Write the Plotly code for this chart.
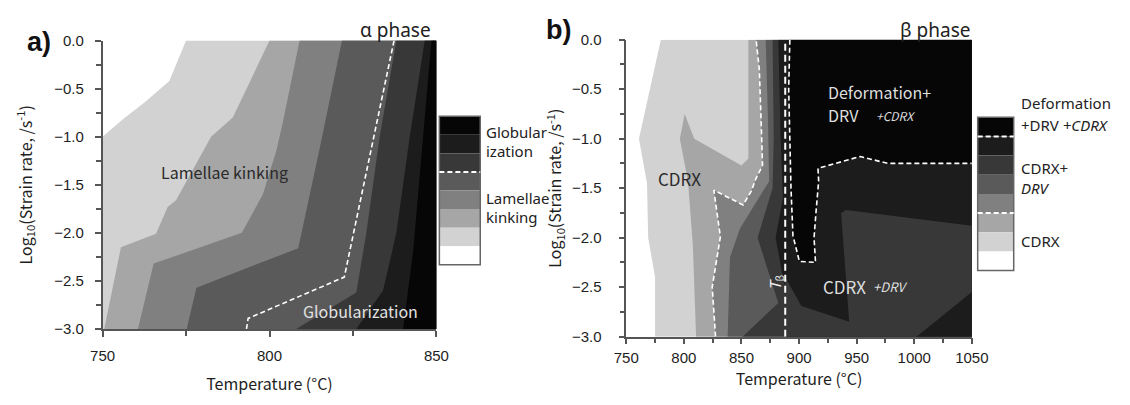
import plotly.graph_objects as go

# Grey levels used by both maps, lightest to darkest
GREYS = ["#ffffff", "#d2d2d2", "#a6a6a6", "#808080", "#5a5a5a", "#383838", "#1c1c1c", "#060606"]

# ---------------- alpha phase: contour boundaries (T in °C, log10 strain rate) ----------------
a_b1_T = [750, 750, 756, 763, 770, 775]
a_b1_L = [-3.0, -1.0, -0.82, -0.63, -0.42, 0.0]
a_b2_T = [750.5, 755.5, 766, 769.5, 772, 782.5, 789, 800]
a_b2_L = [-3.0, -2.15, -2.01, -1.73, -1.66, -1.0, -0.8, 0.0]
a_b3_T = [760.6, 765.3, 791.7, 798, 802, 804, 809]
a_b3_L = [-3.0, -2.32, -2.0, -1.6, -1.15, -0.85, 0.0]
a_b4_T = [775.2, 778.1, 808.6, 811.7, 815.4, 821.7]
a_b4_L = [-3.0, -2.57, -2.16, -1.66, -1.06, 0.0]
a_b5_T = [808, 826, 829, 833, 838]
a_b5_L = [-3.0, -2.62, -2.0, -1.0, 0.0]
a_b6_T = [826, 834, 838, 842, 846.5]
a_b6_L = [-3.0, -2.6, -2.0, -1.0, 0.0]
a_b7_T = [840, 843, 846, 848.5]
a_b7_L = [-3.0, -2.2, -1.0, 0.0]
# dashed line separating globularization from lamellae kinking
a_glob_T = [793.1, 793.6, 822.4, 837.3]
a_glob_L = [-3.0, -2.89, -2.46, 0.0]

# ---------------- beta phase: contour boundaries ----------------
b_b1_T = [775, 775, 769, 768, 761, 780]
b_b1_L = [-3.0, -2.4, -2.0, -1.45, -1.0, 0.0]
b_b2_T = [810.6, 807.8, 803.6, 796.5, 800.7, 809, 850, 856, 856]
b_b2_L = [-3.0, -2.08, -1.43, -1.0, -0.75, -1.0, -1.27, -1.2, 0.0]
# CDRX / CDRX+DRV boundary (also drawn dashed)
b_b3_T = [827.5, 824.6, 831.7, 826, 851.4, 858.5, 862.7, 868.3, 867, 865.5, 862.7]
b_b3_L = [-3.0, -2.5, -1.99, -1.52, -1.67, -1.53, -1.40, -1.27, -0.8, -0.3, 0.0]
b_b4_T = [838, 840, 848.6, 874, 873, 871]
b_b4_L = [-3.0, -2.2, -1.91, -1.43, -0.8, 0.0]
b_b5_T = [888, 888, 882, 864, 877, 878, 877]
b_b5_L = [-3.0, -2.7, -2.66, -2.0, -1.5, -1.0, 0.0]
b_b6_T = [888, 888, 886, 879.6, 886, 884, 882]
b_b6_L = [-3.0, -2.5, -2.4, -2.0, -1.6, -1.0, 0.0]
# CDRX+DRV patch at lower right
b_cd_T = [888, 888, 902, 943.5, 936.5, 940.7, 1050, 1050]
b_cd_L = [-3.0, -2.4, -2.69, -2.85, -1.75, -1.72, -1.88, -3.0]
# darker wedges
b_w1_T = [851, 882, 888, 888]
b_w1_L = [-3.0, -2.66, -2.62, -3.0]
b_w2_T = [1002, 1050, 1050]
b_w2_L = [-3.0, -2.55, -3.0]
# deformation + DRV domain (also outlined dashed)
b_def_T = [892, 891, 892, 893, 894.7, 900.3, 914.3, 913, 915, 917, 916.4, 953, 977, 1050]
b_def_L = [0.0, -0.5, -1.0, -1.5, -1.98, -2.24, -2.25, -2.0, -1.7, -1.43, -1.3, -1.18, -1.25, -1.25]
# beta transus
T_BETA = 888

A_RANGE_T = [750, 850]
B_RANGE_T = [750, 1050]
RANGE_L = [-3, 0]

fig = go.Figure()


def patch(T, L, color, xa, ya):
    fig.add_trace(go.Scatter(x=T, y=L, mode="lines", fill="toself", fillcolor=color,
                             line=dict(width=0, color=color), hoverinfo="skip",
                             showlegend=False, xaxis=xa, yaxis=ya))


def right_of(T, L, tmax):
    """Area to the right of a boundary that runs from the bottom edge to the top edge."""
    return list(T) + [tmax, tmax], list(L) + [L[-1], L[0]]


def dashed(T, L, xa, ya, width=1.6, dash="5px,3px"):
    fig.add_trace(go.Scatter(x=T, y=L, mode="lines", hoverinfo="skip", showlegend=False,
                             line=dict(color="white", width=width, dash=dash),
                             xaxis=xa, yaxis=ya))


# alpha map
for lvl, (T, L) in enumerate([(a_b1_T, a_b1_L), (a_b2_T, a_b2_L), (a_b3_T, a_b3_L),
                               (a_b4_T, a_b4_L), (a_b5_T, a_b5_L), (a_b6_T, a_b6_L),
                               (a_b7_T, a_b7_L)], start=1):
    xs, ys = right_of(T, L, A_RANGE_T[1])
    patch(xs, ys, GREYS[lvl], "x", "y")
dashed(a_glob_T, a_glob_L, "x", "y")

# beta map
for lvl, (T, L) in enumerate([(b_b1_T, b_b1_L), (b_b2_T, b_b2_L), (b_b3_T, b_b3_L),
                               (b_b4_T, b_b4_L), (b_b5_T, b_b5_L), (b_b6_T, b_b6_L)], start=1):
    xs, ys = right_of(T, L, B_RANGE_T[1])
    patch(xs, ys, GREYS[lvl], "x2", "y2")
patch(b_cd_T, b_cd_L, GREYS[5], "x2", "y2")
patch(b_w1_T, b_w1_L, GREYS[5], "x2", "y2")
patch(b_w2_T, b_w2_L, GREYS[6], "x2", "y2")
patch(b_def_T + [B_RANGE_T[1]], b_def_L + [0.0], GREYS[7], "x2", "y2")
dashed(b_b3_T, b_b3_L, "x2", "y2")
dashed(b_def_T, b_def_L, "x2", "y2")
dashed([T_BETA, T_BETA], RANGE_L, "x2", "y2", width=2, dash="7px,4px")

W, H = 1130, 405


def px(x):
    return x / W


def py(y):
    return 1 - y / H


TICKFONT = dict(family="Liberation Sans", size=15, color="#1e1e1e")
TITLEFONT = dict(family="Noto Sans CJK JP", size=16, color="#1e1e1e")
axis_common = dict(showgrid=False, zeroline=False, showline=True, linecolor="#555",
                   linewidth=1.5, ticks="outside", ticklen=6, tickcolor="#555",
                   tickwidth=1.5, tickfont=TICKFONT, title_font=TITLEFONT)
minor = dict(ticklen=5, tickcolor="#555", ticks="outside")
Y_TITLE = "Log<sub>10</sub>(Strain rate, /s<sup>-1</sup>)"

fig.update_layout(
    width=W, height=H, margin=dict(l=0, r=0, t=0, b=0),
    paper_bgcolor="white", plot_bgcolor="white",
    xaxis=dict(domain=[px(92), px(435)], range=A_RANGE_T, dtick=50, minor=dict(dtick=25, **minor),
               ticklabelstandoff=6,
               title=dict(text="Temperature (°C)", standoff=16), anchor="y", **axis_common),
    yaxis=dict(domain=[py(334), py(33)], range=RANGE_L, dtick=0.5, tickformat=".1f",
               minor=dict(dtick=0.25, **minor), ticklabelstandoff=8,
               title=dict(text=Y_TITLE, standoff=18), anchor="x", **axis_common),
    xaxis2=dict(domain=[px(630), px(985)], range=B_RANGE_T, dtick=50,
                minor=dict(dtick=25, **minor), ticklabelstandoff=1,
                title=dict(text="Temperature (°C)", standoff=8), anchor="y2", **axis_common),
    yaxis2=dict(domain=[py(342), py(32)], range=RANGE_L, dtick=0.5, tickformat=".1f",
                minor=dict(dtick=0.25, **minor), ticklabelstandoff=14,
                title=dict(text=Y_TITLE, standoff=6), anchor="x2", **axis_common),
)

ann = []


def text(x, y, s, size=15, color="#2a2a2a", xref="paper", yref="paper", xanchor="center",
         family="Noto Sans CJK JP", angle=0):
    ann.append(dict(x=x, y=y, xref=xref, yref=yref, text=s, showarrow=False,
                    xanchor=xanchor, yanchor="middle", textangle=angle,
                    font=dict(family=family, size=size, color=color)))


# panel letters and phase titles
text(px(27), py(34), "<b>a)</b>", size=27, color="#111", family="Liberation Sans")
text(px(560), py(22), "<b>b)</b>", size=27, color="#111", family="Liberation Sans")
text(px(393), py(22), "α phase", size=19, color="#222", family="Noto Sans")
text(px(948), py(22), "β phase", size=19, color="#222", family="Noto Sans")

# labels inside the maps
text(786.4, -1.37, "Lamellae kinking", size=16, xref="x", yref="y")
text(827.3, -2.81, "Globularization", size=16, color="#e2e2e2", xref="x", yref="y")
text(796.5, -1.40, "CDRX", size=17, xref="x2", yref="y2")
text(923, -0.53, "Deformation+", size=16, color="#dedede", xref="x2", yref="y2", xanchor="left")
text(923, -0.76, "DRV", size=16, color="#dedede", xref="x2", yref="y2", xanchor="left")
text(984, -0.77, "<i>+CDRX</i>", size=12, color="#dedede", xref="x2", yref="y2")
text(939.8, -2.49, "CDRX", size=17, color="#dedede", xref="x2", yref="y2")
text(979, -2.49, "<i>+DRV</i>", size=13, color="#dedede", xref="x2", yref="y2")
text(879.3, -2.45, "<i>T</i><sub>β</sub>", size=15, color="#eeeeee", xref="x2", yref="y2",
     angle=-90)

# level keys beside each map
shapes = []


def key(x0, x1, y0, y1, dash_rows):
    n = len(GREYS)
    h = (y1 - y0) / n
    for i, c in enumerate(reversed(GREYS)):
        shapes.append(dict(type="rect", xref="paper", yref="paper", x0=px(x0), x1=px(x1),
                           y0=py(y0 + (i + 1) * h), y1=py(y0 + i * h), fillcolor=c,
                           line=dict(width=0)))
    shapes.append(dict(type="rect", xref="paper", yref="paper", x0=px(x0), x1=px(x1),
                       y0=py(y1), y1=py(y0), line=dict(color="#666", width=1.5)))
    for r in dash_rows:
        yy = py(y0 + r * h)
        shapes.append(dict(type="line", xref="paper", yref="paper", x0=px(x0), x1=px(x1),
                           y0=yy, y1=yy, line=dict(color="white", width=2, dash="5px,3px")))


key(438, 480, 112, 267, [3])
key(991, 1028, 113, 273, [1, 5])
fig.update_layout(shapes=shapes)

KEYFONT = "Noto Sans"
for s, yy in [("Globular", 128), ("ization", 148), ("Lamellae", 197), ("kinking", 217)]:
    text(px(484), py(yy), s, size=15, color="#222", xanchor="left", family=KEYFONT)
for s, yy in [("Deformation", 98), ("+DRV <i>+CDRX</i>", 121), ("CDRX+", 166),
              ("<i>DRV</i>", 187), ("CDRX", 242)]:
    text(px(1033), py(yy), s, size=15, color="#222", xanchor="left", family=KEYFONT)
fig.update_layout(annotations=ann)

fig.write_html("out.html")
